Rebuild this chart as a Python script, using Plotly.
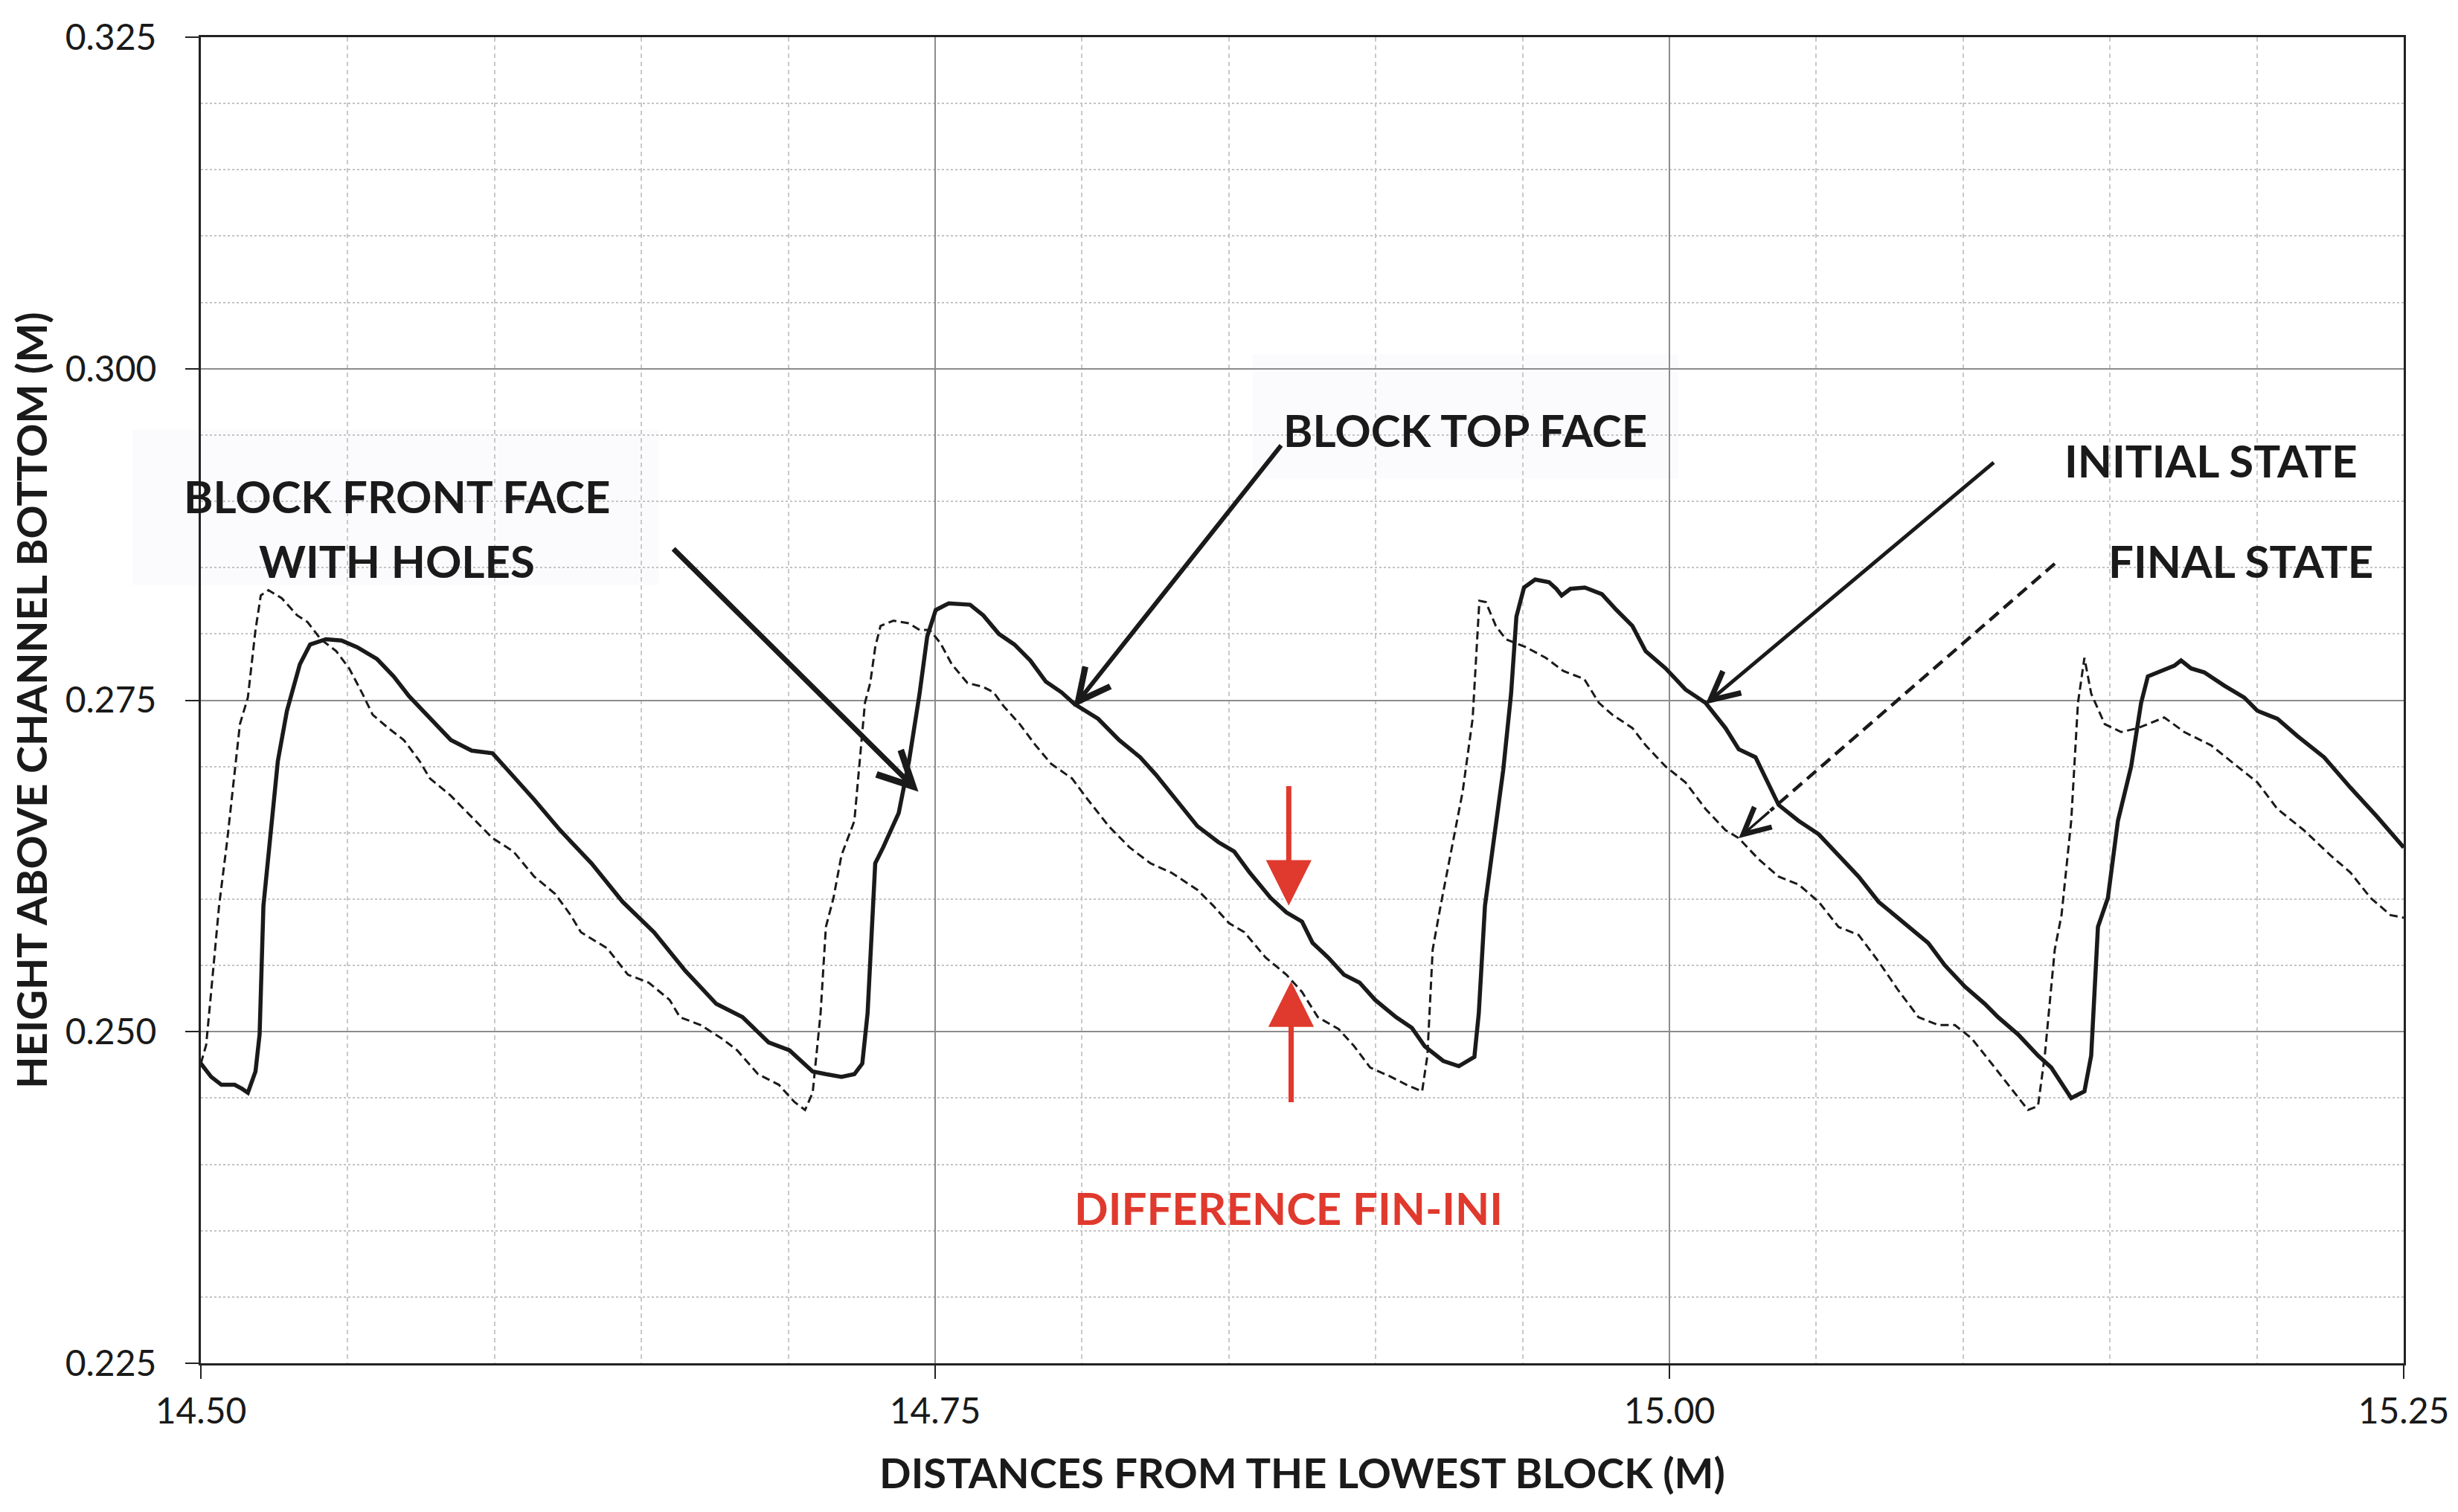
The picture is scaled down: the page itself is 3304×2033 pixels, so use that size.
import plotly.graph_objects as go

# Bed profile, initial state (solid) -- x in m, height in m
INITIAL_X = [
    14.5000, 14.5035, 14.5070, 14.5115, 14.5140, 14.5160, 14.5186, 14.5200, 14.5213, 14.5240,
    14.5262, 14.5293, 14.5337, 14.5372, 14.5426, 14.5479, 14.5532, 14.5600, 14.5656, 14.5709,
    14.5780, 14.5851, 14.5922, 14.5993, 14.6046, 14.6135, 14.6223, 14.6330, 14.6436, 14.6543,
    14.6649, 14.6755, 14.6844, 14.6933, 14.7004, 14.7083, 14.7128, 14.7181, 14.7225, 14.7252,
    14.7270, 14.7296, 14.7323, 14.7376, 14.7411, 14.7447, 14.7473, 14.7502, 14.7546, 14.7619,
    14.7664, 14.7717, 14.7770, 14.7824, 14.7877, 14.7930, 14.7975, 14.8055, 14.8126, 14.8198,
    14.8251, 14.8322, 14.8393, 14.8464, 14.8518, 14.8571, 14.8642, 14.8696, 14.8749, 14.8785,
    14.8838, 14.8892, 14.8945, 14.8998, 14.9069, 14.9123, 14.9167, 14.9230, 14.9283, 14.9336,
    14.9351, 14.9372, 14.9408, 14.9434, 14.9461, 14.9479, 14.9505, 14.9543, 14.9590, 14.9615,
    14.9633, 14.9663, 14.9712, 14.9770, 14.9820, 14.9874, 14.9919, 14.9987, 15.0055, 15.0123,
    15.0191, 15.0236, 15.0293, 15.0327, 15.0372, 15.0440, 15.0508, 15.0576, 15.0644, 15.0712,
    15.0802, 15.0881, 15.0938, 15.1006, 15.1074, 15.1119, 15.1187, 15.1255, 15.1300, 15.1368,
    15.1413, 15.1436, 15.1459, 15.1493, 15.1527, 15.1572, 15.1606, 15.1629, 15.1674, 15.1719,
    15.1742, 15.1776, 15.1821, 15.1889, 15.1957, 15.2002, 15.2070, 15.2138, 15.2229, 15.2319,
    15.2410, 15.2500,
]
INITIAL_Y = [
    0.2476, 0.2466, 0.2460, 0.2460, 0.2457, 0.2454, 0.2470, 0.2498, 0.2595, 0.2652,
    0.2704, 0.2742, 0.2777, 0.2792, 0.2796, 0.2795, 0.2790, 0.2781, 0.2768, 0.2753,
    0.2736, 0.2720, 0.2712, 0.2710, 0.2697, 0.2675, 0.2652, 0.2627, 0.2598, 0.2575,
    0.2546, 0.2521, 0.2511, 0.2492, 0.2486, 0.2470, 0.2468, 0.2466, 0.2468, 0.2476,
    0.2514, 0.2627, 0.2639, 0.2665, 0.2704, 0.2755, 0.2798, 0.2818, 0.2823, 0.2822,
    0.2814, 0.2800, 0.2792, 0.2780, 0.2764, 0.2756, 0.2747, 0.2736, 0.2720, 0.2707,
    0.2694, 0.2675, 0.2655, 0.2643, 0.2636, 0.2620, 0.2601, 0.2590, 0.2583, 0.2567,
    0.2556, 0.2543, 0.2537, 0.2524, 0.2511, 0.2503, 0.2489, 0.2478, 0.2474, 0.2481,
    0.2514, 0.2595, 0.2652, 0.2697, 0.2755, 0.2813, 0.2835, 0.2841, 0.2839, 0.2834,
    0.2829, 0.2834, 0.2835, 0.2830, 0.2818, 0.2806, 0.2787, 0.2774, 0.2758, 0.2748,
    0.2729, 0.2713, 0.2707, 0.2691, 0.2671, 0.2659, 0.2649, 0.2633, 0.2617, 0.2598,
    0.2582, 0.2567, 0.2550, 0.2534, 0.2521, 0.2511, 0.2498, 0.2482, 0.2473, 0.2450,
    0.2455, 0.2482, 0.2579, 0.2601, 0.2659, 0.2700, 0.2748, 0.2768, 0.2772, 0.2776,
    0.2780, 0.2774, 0.2771, 0.2761, 0.2752, 0.2742, 0.2736, 0.2723, 0.2707, 0.2684,
    0.2662, 0.2639,
]

# Bed profile, final state (dashed)
FINAL_X = [
    14.5000, 14.5018, 14.5035, 14.5062, 14.5089, 14.5115, 14.5133, 14.5160, 14.5186, 14.5204,
    14.5230, 14.5275, 14.5328, 14.5363, 14.5408, 14.5461, 14.5505, 14.5550, 14.5585, 14.5638,
    14.5691, 14.5745, 14.5780, 14.5851, 14.5922, 14.5993, 14.6064, 14.6135, 14.6206, 14.6259,
    14.6294, 14.6383, 14.6454, 14.6525, 14.6596, 14.6631, 14.6702, 14.6773, 14.6826, 14.6897,
    14.6968, 14.7021, 14.7057, 14.7083, 14.7110, 14.7128, 14.7154, 14.7181, 14.7225, 14.7243,
    14.7261, 14.7279, 14.7296, 14.7314, 14.7358, 14.7411, 14.7447, 14.7482, 14.7518, 14.7557,
    14.7610, 14.7664, 14.7699, 14.7735, 14.7788, 14.7842, 14.7895, 14.7966, 14.8020, 14.8091,
    14.8162, 14.8233, 14.8304, 14.8393, 14.8447, 14.8500, 14.8553, 14.8625, 14.8696, 14.8749,
    14.8803, 14.8874, 14.8927, 14.8981, 14.9052, 14.9105, 14.9158, 14.9176, 14.9194, 14.9221,
    14.9265, 14.9296, 14.9330, 14.9353, 14.9375, 14.9409, 14.9443, 14.9511, 14.9579, 14.9639,
    14.9710, 14.9760, 14.9806, 14.9874, 14.9919, 14.9987, 15.0055, 15.0123, 15.0191, 15.0236,
    15.0304, 15.0372, 15.0440, 15.0508, 15.0576, 15.0644, 15.0712, 15.0780, 15.0848, 15.0916,
    15.0972, 15.1029, 15.1097, 15.1164, 15.1221, 15.1255, 15.1278, 15.1312, 15.1335, 15.1368,
    15.1391, 15.1413, 15.1436, 15.1482, 15.1538, 15.1595, 15.1685, 15.1753, 15.1844, 15.1934,
    15.2002, 15.2070, 15.2160, 15.2251, 15.2319, 15.2387, 15.2455, 15.2500,
]
FINAL_Y = [
    0.2476, 0.2490, 0.2530, 0.2595, 0.2643, 0.2697, 0.2732, 0.2752, 0.2803, 0.2829,
    0.2833, 0.2827, 0.2814, 0.2809, 0.2796, 0.2787, 0.2774, 0.2755, 0.2739, 0.2729,
    0.2720, 0.2704, 0.2691, 0.2678, 0.2662, 0.2646, 0.2636, 0.2617, 0.2604, 0.2588,
    0.2575, 0.2563, 0.2543, 0.2537, 0.2524, 0.2511, 0.2505, 0.2495, 0.2486, 0.2468,
    0.2460, 0.2447, 0.2441, 0.2454, 0.2514, 0.2579, 0.2601, 0.2633, 0.2659, 0.2704,
    0.2748, 0.2763, 0.2790, 0.2806, 0.2810, 0.2808, 0.2803, 0.2803, 0.2793, 0.2777,
    0.2763, 0.2760, 0.2756, 0.2745, 0.2732, 0.2716, 0.2702, 0.2691, 0.2675, 0.2655,
    0.2639, 0.2627, 0.2620, 0.2607, 0.2595, 0.2582, 0.2575, 0.2556, 0.2543, 0.2530,
    0.2511, 0.2502, 0.2489, 0.2473, 0.2466, 0.2460, 0.2455, 0.2482, 0.2562, 0.2595,
    0.2646, 0.2681, 0.2736, 0.2825, 0.2824, 0.2806, 0.2796, 0.2790, 0.2782, 0.2772,
    0.2766, 0.2748, 0.2739, 0.2729, 0.2716, 0.2700, 0.2688, 0.2668, 0.2652, 0.2646,
    0.2630, 0.2617, 0.2611, 0.2598, 0.2579, 0.2573, 0.2553, 0.2531, 0.2511, 0.2505,
    0.2505, 0.2495, 0.2476, 0.2457, 0.2441, 0.2444, 0.2482, 0.2562, 0.2588, 0.2659,
    0.2748, 0.2782, 0.2755, 0.2732, 0.2726, 0.2729, 0.2737, 0.2726, 0.2716, 0.2700,
    0.2688, 0.2668, 0.2652, 0.2633, 0.2620, 0.2601, 0.2588, 0.2586,
]

X_RANGE = [14.50, 15.25]
Y_RANGE = [0.225, 0.325]

INK = "#1a1a1a"
RED = "#e0392d"
FONT = "Lato"

fig = go.Figure()
fig.add_trace(go.Scatter(
    x=FINAL_X, y=FINAL_Y, mode="lines", name="Final state",
    line=dict(color=INK, width=3, dash="11px,6px"),
))
fig.add_trace(go.Scatter(
    x=INITIAL_X, y=INITIAL_Y, mode="lines", name="Initial state",
    line=dict(color=INK, width=5.5),
))

# very faint label backdrops
fig.add_shape(type="rect", xref="paper", yref="y", x0=-0.031, x1=0.208, y0=0.2837, y1=0.2954,
              fillcolor="rgba(236,236,244,0.22)", line_width=0, layer="below")
fig.add_shape(type="rect", xref="x", yref="y", x0=14.858, x1=15.003, y0=0.2917, y1=0.3011,
              fillcolor="rgba(236,236,244,0.22)", line_width=0, layer="below")


def label(text, x, y, color=INK):
    fig.add_annotation(x=x, y=y, text=text, showarrow=False, xanchor="center", yanchor="middle",
                       font=dict(family=FONT, size=60, color=color, weight="bold"))


def arrow(head, tail, color=INK, width=5, head_style=5, size=1.5):
    fig.add_annotation(x=head[0], y=head[1], ax=tail[0], ay=tail[1], axref="x", ayref="y",
                       xref="x", yref="y", text="", showarrow=True, arrowhead=head_style,
                       arrowsize=size, arrowwidth=width, arrowcolor=color)


label("BLOCK FRONT FACE", 14.5667, 0.2904)
label("WITH HOLES", 14.5667, 0.2855)
label("BLOCK TOP FACE", 14.9305, 0.2954)
label("INITIAL STATE", 15.1844, 0.2931)
label("FINAL STATE", 15.1945, 0.2855)
label("DIFFERENCE FIN-INI", 14.8702, 0.2367, RED)

arrow((14.7443, 0.2681), (14.6605, 0.2865), width=7, size=1.3)
arrow((14.7972, 0.2745), (14.8681, 0.2943), width=6, size=1.4)
arrow((15.0123, 0.2747), (15.1108, 0.2930), width=5, size=1.5)

# dashed arrow: dashed shaft as a shape, head as a short annotation arrow
fs_head, fs_tail = (15.0236, 0.2646), (15.1312, 0.2853)
fs_mid = (fs_head[0] + 0.1 * (fs_tail[0] - fs_head[0]), fs_head[1] + 0.1 * (fs_tail[1] - fs_head[1]))
fig.add_shape(type="line", xref="x", yref="y", x0=fs_tail[0], y0=fs_tail[1],
              x1=fs_mid[0], y1=fs_mid[1], line=dict(color=INK, width=4.5, dash="16px,9px"))
arrow(fs_head, fs_mid, width=3.5, size=2.0)

arrow((14.8704, 0.2595), (14.8704, 0.2686), color=RED, width=7, head_style=2, size=1.75)
arrow((14.8712, 0.2538), (14.8712, 0.2446), color=RED, width=7, head_style=2, size=1.75)

# page body adds an 8px offset, so the figure is 8px smaller each way
fig.update_layout(
    width=3296, height=2025,
    margin=dict(l=262, r=72, t=36, b=200),
    paper_bgcolor="white", plot_bgcolor="white",
    showlegend=False,
    font=dict(family=FONT, color=INK),
)
fig.update_xaxes(
    range=X_RANGE, tick0=14.5, dtick=0.25, tickformat=".2f",
    ticks="outside", ticklen=18, tickwidth=2, tickcolor="#222",
    showline=True, linecolor="#222", linewidth=3, mirror=True,
    showgrid=True, gridcolor="#8c8c8c", gridwidth=2, zeroline=False,
    minor=dict(dtick=0.05, showgrid=True, gridcolor="#c9c9c9", gridwidth=2, griddash="6px,5px"),
    tickfont=dict(family=FONT, size=48, color=INK), ticklabelstandoff=2,
    title=dict(text="DISTANCES FROM THE LOWEST BLOCK (M)", standoff=40,
               font=dict(family=FONT, size=56, color=INK, weight="bold")),
)
fig.update_yaxes(
    range=Y_RANGE, tick0=0.225, dtick=0.025, tickformat=".3f",
    ticks="outside", ticklen=18, tickwidth=2, tickcolor="#222",
    showline=True, linecolor="#222", linewidth=3, mirror=True,
    showgrid=True, gridcolor="#8c8c8c", gridwidth=2, zeroline=False,
    minor=dict(dtick=0.005, showgrid=True, gridcolor="#c4c4c4", gridwidth=2, griddash="dot"),
    tickfont=dict(family=FONT, size=48, color=INK), ticklabelstandoff=29,
    title=dict(text="HEIGHT ABOVE CHANNEL BOTTOM (M)", standoff=12,
               font=dict(family=FONT, size=56, color=INK, weight="bold")),
)

fig.write_html("out.html")
